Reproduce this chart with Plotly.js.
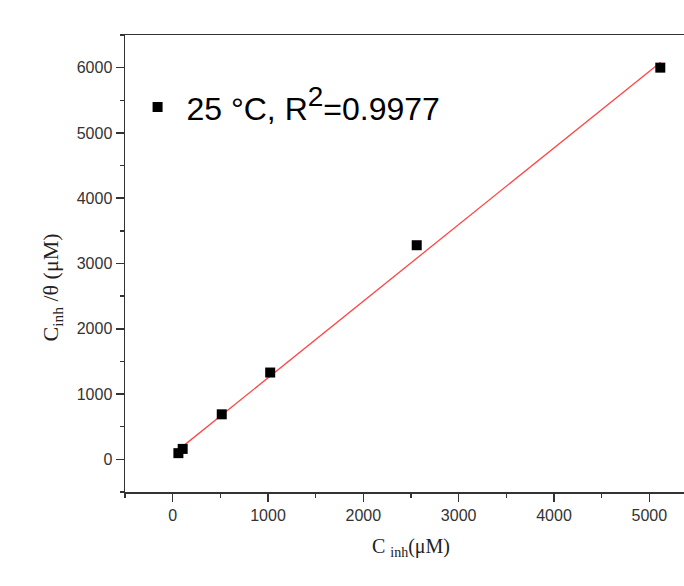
<!DOCTYPE html>
<html>
<head>
<meta charset="utf-8">
<script src="https://cdn.plot.ly/plotly-3.0.1.min.js"></script>
<style>
html,body{margin:0;padding:0;overflow:hidden;background:#fff;}
#chart{width:720px;height:586px;}
</style>
</head>
<body>
<div id="chart"></div>
<script>
// Data
const concX = [60, 105, 515, 1023, 2560, 5115];
const ratioY = [95, 160, 690, 1330, 3280, 6000];
const fitX = [63, 5119];
const fitY = [149, 6084];
const seriesName = '\u00a025 °C, R<sup><span style="font-size:28px">2</span></sup>=0.9977';
const xTitle = 'C <sub>inh</sub>(μM)';
const yTitle = 'C<sub>inh</sub> /θ (μM)';

const axisColor = '#333';
const tickFont = {family: 'Liberation Sans, Arial, sans-serif', size: 16, color: '#333'};

const traces = [
  {
    x: fitX, y: fitY, mode: 'lines', type: 'scatter',
    line: {color: 'rgb(255,70,70)', width: 1.3},
    showlegend: false, hoverinfo: 'skip'
  },
  {
    x: concX, y: ratioY, mode: 'markers', type: 'scatter',
    name: seriesName,
    marker: {symbol: 'square', size: 10, color: '#000'}
  }
];

const layout = {
  width: 720, height: 586,
  margin: {l: 125, r: 23, t: 35, b: 94},
  paper_bgcolor: '#fff', plot_bgcolor: '#fff',
  showlegend: true,
  legend: {
    x: 0.022, y: 0.902, xanchor: 'left', yanchor: 'top',
    bgcolor: 'rgba(0,0,0,0)',
    font: {family: 'Liberation Sans, Arial, sans-serif', size: 32, color: '#000'}
  },
  xaxis: {
    range: [-500, 5500], dtick: 1000, tick0: 0,
    showgrid: false, zeroline: false,
    showline: true, linecolor: axisColor, linewidth: 1.5, mirror: true,
    ticks: 'outside', ticklen: 8, tickwidth: 1.5, tickcolor: axisColor,
    minor: {dtick: 500, ticks: 'outside', ticklen: 4, tickwidth: 1.5, tickcolor: axisColor},
    tickfont: tickFont,
    title: {text: xTitle, standoff: 16, font: {family: 'Liberation Serif, Times New Roman, serif', size: 20, color: '#222'}}
  },
  yaxis: {
    range: [-500, 6500], dtick: 1000, tick0: 0,
    showgrid: false, zeroline: false,
    showline: true, linecolor: axisColor, linewidth: 1.5, mirror: true,
    ticks: 'outside', ticklen: 8, tickwidth: 1.5, tickcolor: axisColor,
    minor: {dtick: 500, ticks: 'outside', ticklen: 4, tickwidth: 1.5, tickcolor: axisColor},
    tickfont: tickFont
  },
  annotations: [{
    text: yTitle, textangle: -90,
    xref: 'paper', yref: 'paper', x: -0.126, y: 0.4475,
    xanchor: 'center', yanchor: 'middle', showarrow: false,
    font: {family: 'Liberation Serif, Times New Roman, serif', size: 22, color: '#222'}
  }]
};

Plotly.newPlot('chart', traces, layout, {displayModeBar: false, staticPlot: true});
</script>
</body>
</html>
